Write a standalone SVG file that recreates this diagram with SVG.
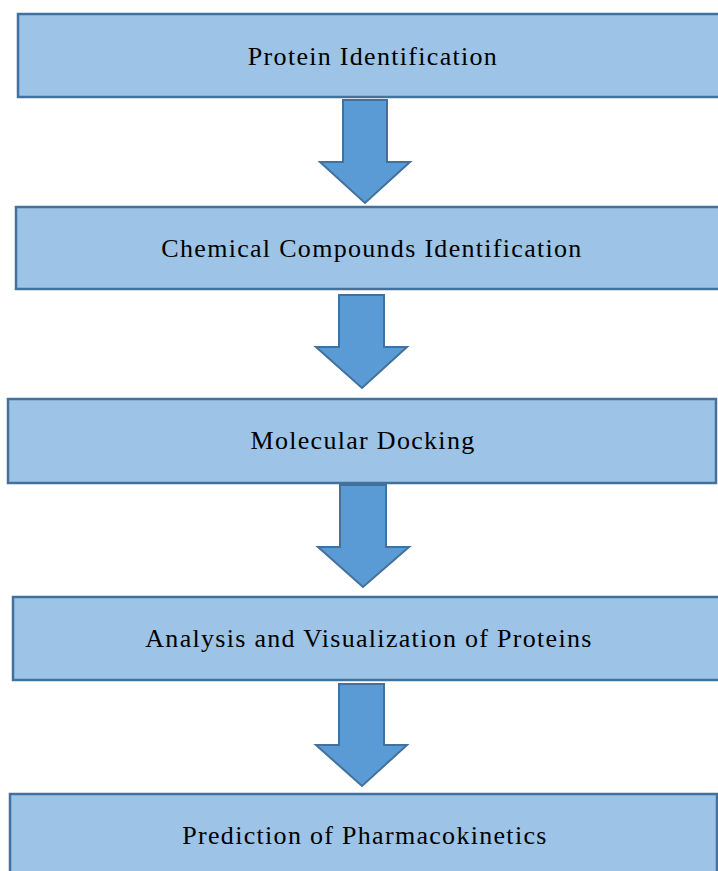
<svg xmlns="http://www.w3.org/2000/svg" width="718" height="871" viewBox="0 0 718 871">
<style>
.box{fill:#9DC3E6;stroke:#41719C;stroke-width:2.5}
.arr{fill:#5B9BD5;stroke:#41719C;stroke-width:2;stroke-linejoin:miter}
text{font-family:"Liberation Serif","Times New Roman",serif;font-size:26px;letter-spacing:1.3px;fill:#000;text-anchor:middle}
</style>
<rect width="718" height="871" fill="#fff"/>
<g id="connectors">
<polygon class="arr" points="343,100 387,100 387,162 410,162 365,203 320,162 343,162"/>
<polygon class="arr" points="339,295 384,295 384,347 407,347 362,388 316,347 339,347"/>
<polygon class="arr" points="340,485 386,485 386,547 409,547 363,587 318,547 340,547"/>
<polygon class="arr" points="339,684 384,684 384,745 407,745 362,786 316,745 339,745"/>
</g>
<g id="n1"><rect class="box" x="18" y="14" width="702" height="83"/><text x="373" y="65">Protein Identification</text></g>
<g id="n2"><rect class="box" x="16" y="207" width="704" height="82"/><text x="372" y="257">Chemical Compounds Identification</text></g>
<g id="n3"><rect class="box" x="8" y="399" width="708" height="84"/><text x="363" y="449">Molecular Docking</text></g>
<g id="n4"><rect class="box" x="13" y="597" width="707" height="83"/><text x="369" y="647">Analysis and Visualization of Proteins</text></g>
<g id="n5"><rect class="box" x="10" y="794" width="707" height="90"/><text x="365" y="844">Prediction of Pharmacokinetics</text></g>
</svg>
